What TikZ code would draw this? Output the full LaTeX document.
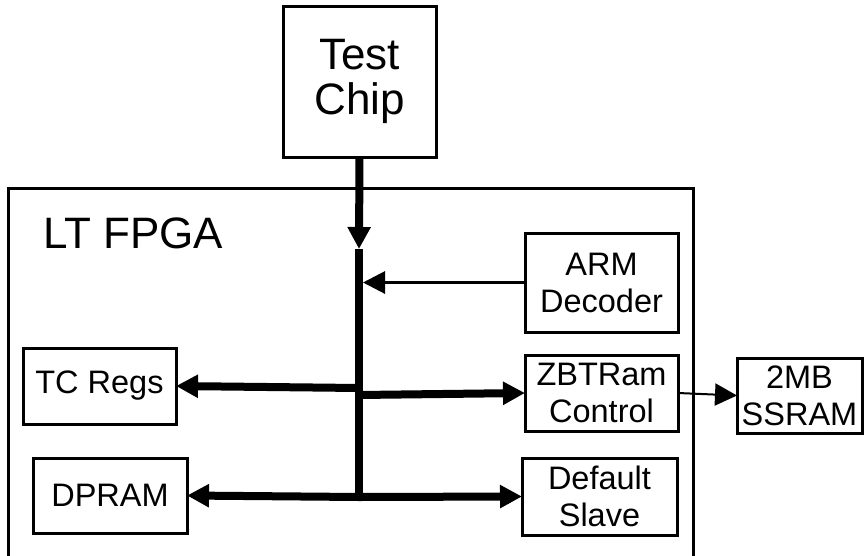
\documentclass[tikz,border=0pt]{standalone}
\usepackage{fontspec}
\setmainfont{Liberation Sans}
\usetikzlibrary{arrows.meta}

\tikzset{
  blk/.style={draw=black, line width=3pt, inner sep=0pt, outer sep=0pt, align=center, font=\fontsize{32.5}{37}\selectfont},
  busline/.style={draw=black, line width=8pt},
  bushead/.style={-{Triangle[length=22pt,width=22pt]}},
  thinline/.style={draw=black, line width=3pt}
}

\begin{document}
\begin{tikzpicture}[x=1pt, y=-1pt, inner sep=0pt, outer sep=0pt]
\useasboundingbox (0,0) rectangle (865,555);

\path[draw=black, line width=3pt] (8,560) -- (8,188) -- (693,188) -- (693,560);

\node[anchor=base west, font=\fontsize{44}{45}\selectfont] (fpgalabel) at (43,248) {LT FPGA};


\node[blk, minimum width=153pt, minimum height=151pt, font=\fontsize{44}{45}\selectfont] (chip) at (359.5,81.5) {Test\\Chip};

\node[blk, minimum width=153pt, minimum height=99pt] (arm) at (601.5,282.5) {ARM\\Decoder};

\node[blk, minimum width=153pt, minimum height=76pt] (zbt) at (601.5,393) {ZBTRam\\Control};

\node[blk, minimum width=155pt, minimum height=77pt] (slave) at (599.5,496.5) {Default\\Slave};

\node[blk, minimum width=153pt, minimum height=76pt] (tcregs) at (99.5,386) {TC Regs};

\node[blk, minimum width=154pt, minimum height=75pt] (dpram) at (110,495.5) {DPRAM};

\node[blk, minimum width=125pt, minimum height=75pt] (ssram) at (799.5,395.5) {2MB\\SSRAM};


\coordinate (bustop) at (359,249);
\coordinate (busbot) at (359,497);
\coordinate (tcjoin) at (359,388);
\coordinate (zbtjoin) at (359,395);
\coordinate (armjoin) at (363,282.5);


\path[busline, bushead] (chip.south) -- (bustop);

\path[busline] (bustop) -- (busbot);

\path[thinline, bushead] (arm.west) -- (armjoin);

\path[busline, bushead] (tcjoin) -- (tcregs.east);

\path[busline, bushead] (zbtjoin) -- (zbt.west);

\path[busline, bushead] (busbot) -- (dpram.east);

\path[busline, bushead] (busbot) -- (slave.west);

\path[draw=black, line width=2pt, bushead] (zbt.east) -- (ssram.west);

\end{tikzpicture}
\end{document}
